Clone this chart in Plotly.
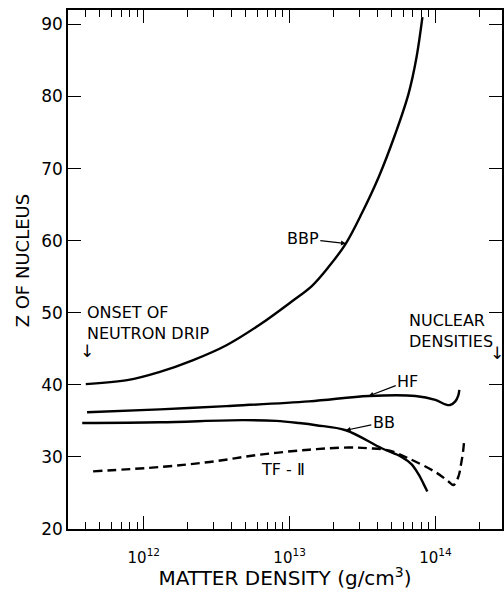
import math
import plotly.graph_objects as go

# ---------------- data ----------------
# matter density in g/cm^3, Z of nucleus
bbp_rho = [4.0e11, 7.7e11, 1.29e12, 2.16e12, 3.69e12, 6.19e12, 1.04e13, 1.42e13,
           1.86e13, 2.43e13, 3.13e13, 4.08e13, 5.33e13, 6.55e13, 7.42e13, 8.15e13]
bbp_z = [40.1, 40.65, 41.8, 43.4, 45.5, 48.3, 51.6, 53.7,
         56.4, 59.6, 63.8, 68.8, 74.9, 80.4, 85.4, 91.0]

hf_rho = [4.08e11, 1.29e12, 3.69e12, 1.36e13, 3.49e13, 7.3e13, 1.0e14,
          1.17e14, 1.26e14, 1.37e14, 1.435e14, 1.46e14]
hf_z = [36.2, 36.6, 37.05, 37.7, 38.45, 38.45, 37.9,
        37.3, 37.2, 37.7, 38.5, 39.3]

bb_rho = [3.78e11, 1.29e12, 4.74e12, 8.1e12, 1.16e13, 1.52e13, 2.43e13,
          4.28e13, 5.86e13, 6.85e13, 7.66e13, 8.28e13, 8.81e13]
bb_z = [34.7, 34.8, 35.1, 35.0, 34.7, 34.4, 33.7,
        31.2, 30.0, 29.0, 27.6, 26.3, 25.2]

tf_rho = [4.49e11, 1.29e12, 2.83e12, 6.2e12, 1.36e13, 2.55e13, 3.49e13,
          4.78e13, 6.55e13, 1.0e14, 1.23e14, 1.33e14, 1.44e14, 1.50e14,
          1.55e14, 1.58e14]
tf_z = [28.0, 28.6, 29.3, 30.3, 31.0, 31.3, 31.2,
        30.9, 29.8, 27.9, 26.6, 26.1, 27.3, 29.0,
        30.8, 32.6]

x_tickvals = [1e12, 1e13, 1e14]
x_ticktext = ["10<sup>12</sup>", "10<sup>13</sup>", "10<sup>14</sup>"]
x_minor = [m * 10 ** e for e in (11, 12, 13, 14) for m in range(2, 10)
           if 3.1e11 < m * 10 ** e < 2.8e14]
y_tickvals = [20, 30, 40, 50, 60, 70, 80, 90]

NEUTRON_DRIP = 4.1e11
NUCLEAR_DENSITY = 2.65e14

FONT = "DejaVu Sans"
line = dict(color="black", width=2.4, shape="spline")

fig = go.Figure()
fig.add_trace(go.Scatter(x=bbp_rho, y=bbp_z, mode="lines", line=line, name="BBP"))
fig.add_trace(go.Scatter(x=hf_rho, y=hf_z, mode="lines", line=line, name="HF"))
fig.add_trace(go.Scatter(x=bb_rho, y=bb_z, mode="lines", line=line, name="BB"))
fig.add_trace(go.Scatter(x=tf_rho, y=tf_z, mode="lines",
                         line=dict(line, dash="9px,5px"), name="TF-II"))

lg = math.log10
ann_font = dict(family=FONT, size=16, color="black")
arrow = dict(showarrow=True, arrowhead=2, arrowsize=0.8, arrowwidth=1.2, arrowcolor="black")
annotations = [
    dict(x=lg(bbp_rho[9]), y=bbp_z[9], text="BBP", ax=-43, ay=-5, font=ann_font, **arrow),
    dict(x=lg(hf_rho[4]), y=hf_z[4], text="HF", ax=39, ay=-15, font=ann_font, **arrow),
    dict(x=lg(bb_rho[6]), y=bb_z[6], text="BB", ax=38, ay=-8, font=ann_font, **arrow),
    dict(x=12.956, y=28.2, text="TF - Ⅱ", showarrow=False, font=ann_font),
    dict(x=11.597, y=48.6, text="ONSET OF<br>NEUTRON DRIP", showarrow=False,
         xanchor="left", align="left", font=ann_font),
    dict(x=13.802, y=47.5, text="NUCLEAR<br>DENSITIES", showarrow=False,
         xanchor="left", align="left", font=ann_font),
    dict(x=lg(NEUTRON_DRIP), y=44.7, text="↓", showarrow=False,
         font=dict(family=FONT, size=17, color="black")),
    dict(x=lg(NUCLEAR_DENSITY), y=44.4, text="↓", showarrow=False,
         font=dict(family=FONT, size=17, color="black")),
    dict(x=-0.1055, y=0.518, xref="paper", yref="paper", text="Z OF NUCLEUS",
         xanchor="center", yanchor="middle",
         textangle=-90, showarrow=False, font=dict(family=FONT, size=18, color="black")),
]

fig.update_layout(
    width=504, height=590,
    margin=dict(l=68, r=0, t=10, b=61),
    paper_bgcolor="white", plot_bgcolor="white",
    showlegend=False,
    font=dict(family=FONT, color="black"),
    annotations=annotations,
    xaxis=dict(
        type="log", range=[11.48, 14.457],
        tickvals=x_tickvals, ticktext=x_ticktext,
        ticks="inside", ticklen=13, tickwidth=1.3, tickcolor="black",
        minor=dict(tickvals=x_minor, ticks="inside", ticklen=7, tickwidth=1.3, tickcolor="black"),
        showline=True, linecolor="black", linewidth=1.5, mirror="ticks",
        showgrid=False, zeroline=False,
        tickfont=dict(family=FONT, size=15, color="black"),
        ticklabelstandoff=14,
        title=dict(text="MATTER DENSITY (g/cm<sup>3</sup>)",
                   font=dict(family=FONT, size=20, color="black"), standoff=5),
    ),
    yaxis=dict(
        range=[20, 92], tickvals=y_tickvals,
        ticks="inside", ticklen=13, tickwidth=1.3, tickcolor="black",
        showline=True, linecolor="black", linewidth=1.5, mirror="ticks",
        showgrid=False, zeroline=False,
        tickfont=dict(family=FONT, size=17, color="black"),
    ),
)

fig.write_html(
    "out.html",
    config={"displayModeBar": False},
    post_script="document.body.style.margin='0';document.body.style.overflow='hidden';",
)
